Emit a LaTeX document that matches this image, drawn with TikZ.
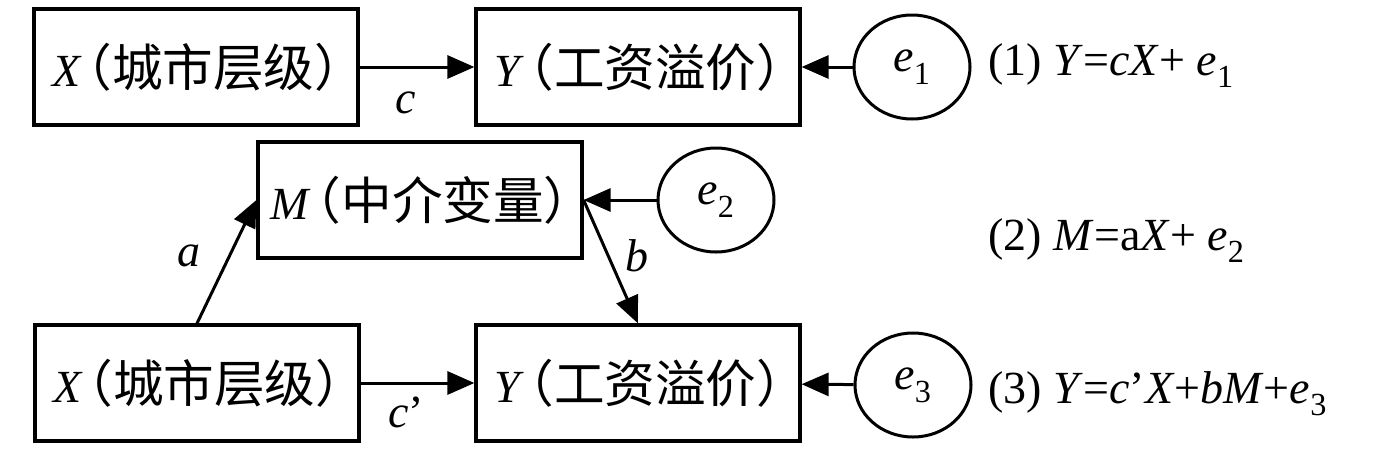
\documentclass[tikz,border=0pt]{standalone}
\usepackage{fontspec}
\setmainfont{Liberation Serif}
\newfontfamily\cjk[Scale=1.1,RawFeature=+halt]{Noto Sans CJK SC}
\usepackage{tikz}
\usetikzlibrary{arrows.meta}
\usetikzlibrary{shapes.geometric}
\usetikzlibrary{positioning}
\tikzset{every node/.style = {font=\fontsize{46}{52}\selectfont}}
\tikzset{box/.style = {draw, line width=3.2pt, minimum width=324pt,
                       minimum height=116pt, inner sep=0}}
\tikzset{err/.style = {draw, ellipse, line width=3pt, minimum width=116pt,
                       minimum height=104pt, inner sep=0}}
\tikzset{arr/.style = {line width=3pt, -{Triangle[length=27pt, width=23pt]}}}
\newcommand{\boxlbl}[2]{\textit{#1}\kern5pt{\cjk（#2）}}

\begin{document}
\begin{tikzpicture}[x=1pt, y=-1pt]
    \useasboundingbox (0, 0) rectangle (1378, 453);
    % total effect
    \node [box] (X1) at (196, 67) {\boxlbl{X}{城市层级}};
    \node [box] (Y1) at (638, 67) {\boxlbl{Y}{工资溢价}};
    \node [err] (e1) at (912, 67) {\textit{e}\textsubscript{1}};
    \node [anchor=base west] (eq1) at (985, 75)
      {(1) \textit{Y}=\textit{cX}+ \textit{e}\textsubscript{1}};
    \draw [arr] (X1) -- node [pos=0.4, below=20pt] (lc) {\textit{c}} (Y1);
    \draw [arr] (e1) -- (Y1);
    % mediator
    \node [box] (M) at (420, 200) {\boxlbl{M}{中介变量}};
    \node [err] (e2) at (716, 200) {\textit{e}\textsubscript{2}};
    \node [anchor=base west] (eq2) at (985, 250)
      {(2) \textit{M}=a\textit{X}+ \textit{e}\textsubscript{2}};
    \draw [arr] (e2) -- (M);
    % direct effect
    \node [box] (X2) at (197, 383) {\boxlbl{X}{城市层级}};
    \node [box] (Y2) at (638, 383) {\boxlbl{Y}{工资溢价}};
    \node [err] (e3) at (913, 385) {\textit{e}\textsubscript{3}};
    \node [anchor=base west] (eq3) at (985, 403)
      {(3) \textit{Y}=\textit{c}’\textit{X}+\textit{bM}+\textit{e}\textsubscript{3}};
    \draw [arr] (X2) -- node [pos=0.4, below=9pt] (lcp) {\textit{c}’} (Y2);
    \draw [arr] (e3) -- (Y2);
    \draw [arr] (X2.north) -- node [pos=0.55, left=24pt] (la) {\textit{a}} (M.west);
    \draw [arr] (M.east) -- node [pos=0.45, right=13pt] (lb) {\textit{b}} (Y2.north);
\end{tikzpicture}
\end{document}
